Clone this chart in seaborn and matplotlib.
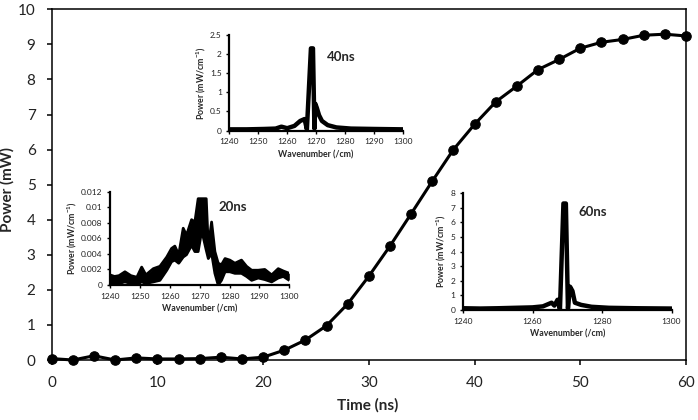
import matplotlib
matplotlib.use("Agg")
import matplotlib.pyplot as plt
import seaborn as sns

# ---------------- data ----------------
time_ns = [0, 2, 4, 6, 8, 10, 12, 14, 16, 18, 20, 22, 24, 26, 28, 30,
           32, 34, 36, 38, 40, 42, 44, 46, 48, 50, 52, 54, 56, 58, 60]
power_mw = [0.04, 0.00, 0.12, 0.00, 0.06, 0.03, 0.03, 0.04, 0.08, 0.03, 0.08,
            0.28, 0.57, 0.98, 1.60, 2.39, 3.25, 4.17, 5.10, 6.00, 6.72,
            7.36, 7.81, 8.28, 8.57, 8.89, 9.06, 9.14, 9.26, 9.29, 9.24]
main_xticks = [0, 10, 20, 30, 40, 50, 60]
main_yticks = [0, 1, 2, 3, 4, 5, 6, 7, 8, 9, 10]

# 20 ns spectrum: upper / lower envelope of the noisy trace
wn20 = [1240, 1241.5, 1243, 1245, 1247, 1249, 1250.6, 1252, 1254.5, 1256.7,
        1259, 1260.6, 1261.7, 1263, 1264.5, 1265.6, 1267.3, 1268.4, 1269.5,
        1270.7, 1272.2, 1272.9, 1274, 1275.1, 1276.2, 1277.3, 1278.5, 1280.1,
        1281.8, 1284, 1285.7, 1287.4, 1289.6, 1291.8, 1294.1, 1296.3, 1298, 1300]
up20 = [0.0013, 0.0011, 0.0012, 0.0017, 0.0012, 0.0010, 0.0023, 0.0013, 0.0021,
        0.0024, 0.0036, 0.0047, 0.0050, 0.0039, 0.0073, 0.0064, 0.0084, 0.0081,
        0.0111, 0.0111, 0.0111, 0.0049, 0.0081, 0.0043, 0.0028, 0.0026, 0.0034,
        0.0032, 0.0028, 0.0032, 0.0024, 0.0019, 0.0019, 0.0020, 0.0013, 0.0021,
        0.0018, 0.0015]
lo20 = [0.0003, 0.0002, 0.0002, 0.0004, 0.0002, 0.0001, 0.0004, 0.0002, 0.0004,
        0.0006, 0.0019, 0.0030, 0.0032, 0.0028, 0.0036, 0.0039, 0.0051, 0.0043,
        0.0043, 0.0070, 0.0045, 0.0034, 0.0041, 0.0015, 0.0000, 0.0006, 0.0017,
        0.0017, 0.0015, 0.0015, 0.0011, 0.0006, 0.0009, 0.0007, 0.0004, 0.0009,
        0.0011, 0.0006]
yt20 = [0, 0.002, 0.004, 0.006, 0.008, 0.01, 0.012]
yl20 = ["0", "0.002", "0.004", "0.006", "0.008", "0.01", "0.012"]

# 40 ns spectrum
wn40 = [1240, 1246, 1252, 1256, 1258, 1260, 1262.5, 1264.5, 1266, 1266.8,
        1268.2, 1268.9, 1269.4, 1269.7, 1270.2, 1271, 1272, 1274, 1277, 1282,
        1290, 1300]
p40 = [0.03, 0.03, 0.04, 0.05, 0.10, 0.06, 0.12, 0.25, 0.30, 0.03,
       2.15, 2.15, 0.05, 0.70, 0.60, 0.40, 0.25, 0.14, 0.08, 0.05, 0.04, 0.03]
yt40 = [0, 0.5, 1, 1.5, 2, 2.5]
yl40 = ["0", "0.5", "1", "1.5", "2", "2.5"]

# 60 ns spectrum
wn60 = [1240, 1245, 1250, 1255, 1260, 1263, 1265.5, 1266.3, 1267.2, 1267.9,
        1268.9, 1269.6, 1270.2, 1270.8, 1271.5, 1272.2, 1274, 1277, 1282,
        1290, 1300]
p60 = [0.12, 0.10, 0.12, 0.15, 0.18, 0.25, 0.50, 0.30, 0.70, 0.05,
       7.30, 7.30, 0.10, 1.60, 1.30, 0.50, 0.35, 0.22, 0.15, 0.12, 0.10]
yt60 = [0, 1, 2, 3, 4, 5, 6, 7, 8]
yl60 = ["0", "1", "2", "3", "4", "5", "6", "7", "8"]

xt_fine = [1240, 1250, 1260, 1270, 1280, 1290, 1300]
xt_coarse = [1240, 1260, 1280, 1300]

# ---------------- style ----------------
sns.set_theme(style="ticks")
plt.rcParams["font.family"] = ["Lato", "DejaVu Sans"]
plt.rcParams["mathtext.fontset"] = "custom"
plt.rcParams["mathtext.rm"] = "Lato"
plt.rcParams["mathtext.bf"] = "Lato:bold"

W, H = 698, 420
fig = plt.figure(figsize=(W / 100, H / 100), dpi=100)
fig.patch.set_facecolor("white")


def rect(x0, x1, y_top, y_bot):
    return [x0 / W, 1 - y_bot / H, (x1 - x0) / W, (y_bot - y_top) / H]


# ---------------- main axes ----------------
ax = fig.add_axes(rect(51.7, 686, 9.3, 360))
sns.lineplot(x=time_ns, y=power_mw, ax=ax, color="black", lw=2.2,
             marker="o", markersize=6.8, markeredgecolor="black",
             markeredgewidth=0.8, clip_on=False, zorder=3)
ax.set_xlim(0, 60)
ax.set_ylim(0, 10)
ax.set_xticks(main_xticks)
ax.set_yticks(main_yticks)
for s in ax.spines.values():
    s.set_linewidth(1.1)
    s.set_color("black")
ax.tick_params(direction="out", length=3.6, width=1.1, color="black",
               labelsize=11, labelcolor="#222222")
ax.tick_params(axis="y", pad=8)
ax.tick_params(axis="x", pad=8)
ax.set_xlabel("")
ax.set_ylabel("")
fig.text(368 / W, 1 - 405 / H, "Time (ns)", ha="center", va="center",
         fontsize=11, fontweight="bold")
fig.text(7 / W, 1 - 190 / H, "Power (mW)", ha="center", va="center",
         rotation=90, fontsize=11, fontweight="bold")


def style_inset(a, xlim, xticks, ylim, yticks, ylabels):
    a.set_facecolor("none")
    a.set_xlim(*xlim)
    a.set_ylim(*ylim)
    a.set_xticks(xticks)
    a.set_yticks(yticks)
    a.set_yticklabels(ylabels)
    sns.despine(ax=a)
    for k in ("left", "bottom"):
        a.spines[k].set_linewidth(1.6)
        a.spines[k].set_color("black")
    a.tick_params(direction="out", length=2.5, width=1.0, color="black",
                  labelsize=6, pad=3, labelcolor="#222222")
    a.set_xlabel("Wavenumber (/cm)", fontsize=6.3, fontweight="bold",
                 labelpad=3.5)
    a.set_ylabel(r"Power (mW/cm$^{\mathbf{-1}}$)", fontsize=6.3,
                 fontweight="bold", labelpad=1.5)


# ---------------- inset 20 ns ----------------
a20 = fig.add_axes(rect(110, 289.3, 191.7, 285))
a20.fill_between(wn20, lo20, up20, color="black", lw=0)
sns.lineplot(x=wn20, y=up20, ax=a20, color="black", lw=2.0)
sns.lineplot(x=wn20, y=lo20, ax=a20, color="black", lw=2.0)
style_inset(a20, (1240, 1300), xt_fine, (0, 0.012), yt20, yl20)
a20.text(1276.3, 0.0100, "20ns", fontsize=9.5, fontweight="bold",
         ha="left", va="center")

# ---------------- inset 40 ns ----------------
a40 = fig.add_axes(rect(229.3, 403, 35, 130.5))
sns.lineplot(x=wn40, y=p40, ax=a40, color="black", lw=3.2)
style_inset(a40, (1240, 1300), xt_fine, (0, 2.5), yt40, yl40)
a40.text(1273.6, 1.92, "40ns", fontsize=9.5, fontweight="bold",
         ha="left", va="center")

# ---------------- inset 60 ns ----------------
a60 = fig.add_axes(rect(463, 671.5, 193.3, 310))
sns.lineplot(x=wn60, y=p60, ax=a60, color="black", lw=3.2)
style_inset(a60, (1240, 1300), xt_coarse, (0, 8), yt60, yl60)
a60.text(1273.2, 6.74, "60ns", fontsize=9.5, fontweight="bold",
         ha="left", va="center")

fig.savefig("out.png", dpi=100, facecolor="white")
